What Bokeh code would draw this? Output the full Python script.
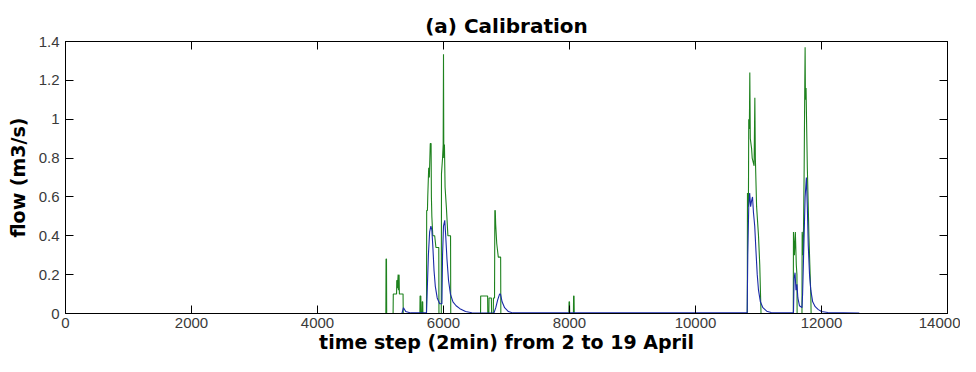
from bokeh.plotting import figure
from bokeh.models import LinearAxis, FixedTicker, CustomJSTickFormatter, Range1d
from bokeh.embed import file_html
from bokeh.resources import INLINE

# observed flow (green), time step vs m3/s
obs_t = [5000, 5085, 5088, 5095, 5098,
         5200, 5203, 5255, 5258, 5265, 5268, 5280, 5285, 5295, 5300, 5358, 5361,
         5625, 5628, 5640, 5643, 5660, 5663, 5670, 5673,
         5730, 5733, 5745, 5750, 5765, 5775, 5790, 5803, 5808, 5815, 5830, 5860, 5880, 5925, 5928,
         5965, 5968, 5985, 5995, 6000, 6005, 6015, 6025, 6045, 6070, 6112, 6115,
         6588, 6590, 6700, 6703, 6720, 6723, 6760, 6763, 6790, 6793, 6810, 6815, 6822, 6828, 6845, 6870, 6907, 6910,
         7990, 7993, 8000, 8003, 8062, 8065, 8072, 8075,
         10822, 10825, 10840, 10845, 10855, 10862, 10870, 10890, 10900, 10930, 10942, 10950, 10970, 11000, 11020, 11040,
         11552, 11555, 11570, 11585, 11600, 11610, 11613,
         11690, 11693, 11710, 11725, 11735, 11740, 11745, 11755, 11765, 11775, 11790, 11800, 11815, 11830, 11835,
         12600]
obs_q = [0, 0, 0.28, 0.28, 0,
         0, 0.10, 0.10, 0.17, 0.17, 0.13, 0.20, 0.12, 0.20, 0.10, 0.10, 0,
         0, 0.09, 0.09, 0, 0, 0.06, 0.06, 0,
         0, 0.53, 0.53, 0.60, 0.75, 0.70, 0.875, 0.875, 0.60, 0.50, 0.40, 0.40, 0.34, 0.34, 0,
         0, 0.72, 0.80, 0.87, 1.335, 0.80, 0.87, 0.65, 0.55, 0.40, 0.40, 0,
         0, 0.09, 0.09, 0, 0, 0.08, 0.08, 0, 0, 0.08, 0.08, 0.53, 0.53, 0.46, 0.36, 0.29, 0.29, 0,
         0, 0.06, 0.06, 0, 0, 0.09, 0.09, 0,
         0, 0.62, 0.55, 1.00, 0.95, 1.24, 0.90, 0.85, 0.80, 0.76, 1.11, 0.80, 0.55, 0.40, 0.25, 0,
         0, 0.42, 0.30, 0.42, 0.25, 0.20, 0,
         0, 0.42, 0.30, 0.75, 1.20, 1.37, 1.10, 1.16, 0.95, 0.75, 0.55, 0.40, 0.25, 0.10, 0,
         0]

# simulated flow (blue)
sim_t = [5000, 5340, 5365, 5400, 5480,
         5730, 5740, 5760, 5780, 5800, 5815, 5830, 5850, 5870, 5900, 5940, 5975,
         5985, 6000, 6020, 6035, 6055, 6080, 6110, 6150, 6200, 6260, 6350, 6450, 6800,
         6830, 6860, 6890, 6905, 6930, 6970, 7030, 7100,
         10820, 10830, 10845, 10860, 10875, 10890, 10905, 10920, 10940, 10960, 10980, 11000, 11030, 11070, 11130, 11200,
         11555, 11565, 11580, 11595, 11610, 11625, 11650, 11690,
         11700, 11720, 11740, 11760, 11775, 11790, 11810, 11830, 11860, 11900, 11950, 12000, 12100, 12600]
sim_q = [0, 0, 0.03, 0.01, 0.003,
         0.003, 0.10, 0.30, 0.42, 0.45, 0.43, 0.35, 0.22, 0.14, 0.08, 0.05, 0.05,
         0.30, 0.45, 0.48, 0.40, 0.28, 0.17, 0.10, 0.06, 0.04, 0.025, 0.01, 0.004, 0.002,
         0.03, 0.07, 0.10, 0.10, 0.06, 0.03, 0.01, 0.003,
         0.003, 0.30, 0.55, 0.62, 0.55, 0.58, 0.60, 0.52, 0.45, 0.32, 0.20, 0.12, 0.06, 0.03, 0.012, 0.005,
         0.003, 0.18, 0.21, 0.12, 0.15, 0.08, 0.04, 0.03,
         0.10, 0.35, 0.60, 0.70, 0.55, 0.35, 0.20, 0.12, 0.06, 0.035, 0.02, 0.01, 0.005, 0.002]

x_ticks = [0, 2000, 4000, 6000, 8000, 10000, 12000, 14000]
y_ticks = [0, 0.2, 0.4, 0.6, 0.8, 1.0, 1.2, 1.4]
y_labels = {0: "0", 0.2: "0.2", 0.4: "0.4", 0.6: "0.6", 0.8: "0.8", 1.0: "1", 1.2: "1.2", 1.4: "1.4"}

TICK_FONT = "Liberation Sans"
LABEL_FONT = "DejaVu Sans"

p = figure(width=960, height=356, output_backend="svg", toolbar_location=None,
           x_range=Range1d(0, 14000), y_range=Range1d(0, 1.4),
           min_border_left=65, min_border_right=13, min_border_top=41, min_border_bottom=43,
           title="(a) Calibration")
p.title.align = "center"
p.title.text_font = LABEL_FONT
p.title.text_font_size = "20px"
p.title.text_font_style = "bold"
p.title.text_color = "black"
p.title.offset = 0
p.title.standoff = 8

p.grid.visible = False
p.outline_line_color = "black"
p.outline_line_width = 1
p.background_fill_color = "white"
p.border_fill_color = "white"

p.line(obs_t, obs_q, line_color="#1e821e", line_width=1.1)
p.line(sim_t, sim_q, line_color="#1a2aa8", line_width=1.1)

def style_axis(ax, ticks):
    ax.ticker = FixedTicker(ticks=ticks)
    ax.major_tick_in = 8
    ax.major_tick_out = 0
    ax.minor_tick_line_color = None
    ax.axis_line_color = "black"
    ax.major_tick_line_color = "black"
    ax.major_label_text_font = TICK_FONT
    ax.major_label_text_font_size = "15px"
    ax.major_label_text_color = "#3a3a3a"
    ax.axis_label_text_font = LABEL_FONT
    ax.axis_label_text_font_style = "bold"
    ax.axis_label_text_font_size = "19px"
    ax.axis_label_text_color = "black"

xa = p.xaxis[0]
style_axis(xa, x_ticks)
xa.axis_label = "time step (2min) from 2 to 19 April"
xa.major_label_standoff = 4
xa.axis_label_standoff = 0

ya = p.yaxis[0]
style_axis(ya, y_ticks)
ya.major_label_overrides = y_labels
ya.axis_label = "flow (m3/s)"
ya.major_label_standoff = 6
ya.axis_label_standoff = 7

blank = CustomJSTickFormatter(code="return '';")
top = LinearAxis(formatter=blank)
style_axis(top, x_ticks)
top.major_label_standoff = 0
top.major_label_text_font_size = "1px"
p.add_layout(top, "above")

right = LinearAxis(formatter=blank)
style_axis(right, y_ticks)
right.major_label_standoff = 0
right.major_label_text_font_size = "1px"
p.add_layout(right, "right")

open("out.html", "w").write(file_html(p, INLINE))
